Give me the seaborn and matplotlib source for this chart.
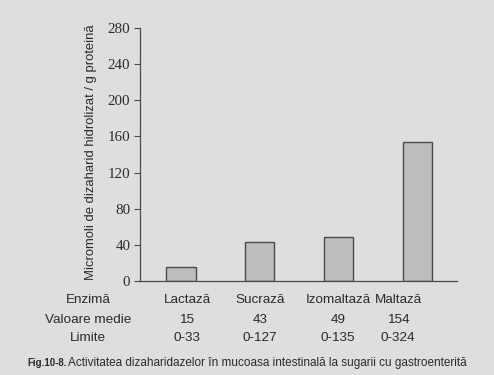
import matplotlib
matplotlib.use("Agg")
import matplotlib.pyplot as plt
import seaborn as sns
import pandas as pd

# ── Data ──────────────────────────────────────────────────────────────────────
ENZIME   = ["Lactază", "Sucrază", "Izomaltază", "Maltază"]
MEDII    = [15, 43, 49, 154]
LIMITE   = ["0-33", "0-127", "0-135", "0-324"]
Y_TICKS  = [0, 40, 80, 120, 160, 200, 240, 280]

BG    = "#dedede"
BAR   = "#bdbdbd"
EDGE  = "#4a4a4a"
TEXT  = "#2a2a2a"

sns.set_style("ticks")
plt.rcParams["font.family"] = ["Liberation Sans", "DejaVu Sans"]

df = pd.DataFrame({"enzima": ENZIME, "medie": MEDII})

W, H = 494, 375
fig = plt.figure(figsize=(W / 100, H / 100), dpi=100, facecolor=BG)
# axa: x 140..457 px, y 28..281 px
ax = fig.add_axes([140 / W, 1 - 281 / H, 317 / W, 253 / H], facecolor=BG)

sns.barplot(data=df, x="enzima", y="medie", ax=ax, width=0.37,
            color=BAR, edgecolor=EDGE, linewidth=1.0, saturation=1)

ax.set_xlim(-0.52, 3.5)
ax.set_ylim(0, 280)
ax.set_yticks(Y_TICKS)
ax.set_yticklabels([str(t) for t in Y_TICKS], family="Liberation Serif",
                   fontsize=10.8, color=TEXT)
ax.tick_params(axis="y", length=4, width=0.8, color=EDGE, pad=3)
ax.tick_params(axis="x", length=0, labelbottom=False)
ax.set_xlabel("")
ax.set_ylabel("")
for s in ["top", "right"]:
    ax.spines[s].set_visible(False)
for s in ["left", "bottom"]:
    ax.spines[s].set_color(EDGE)
    ax.spines[s].set_linewidth(0.9)

fig.text(91 / W, 1 - 152 / H, "Micromoli de dizaharid hidrolizat / g proteină",
         rotation=90, ha="center", va="center", fontsize=9.4, color=TEXT)

# ── Tabel sub grafic ─────────────────────────────────────────────────────────
rows_y = [300, 320, 338]
labels = ["Enzimă", "Valoare medie", "Limite"]
col_x  = [187, 260, 338, 398]
FS = 9.7
for y, lab in zip(rows_y, labels):
    fig.text(88 / W, 1 - y / H, lab, ha="center", va="center",
             fontsize=FS, color=TEXT)
for x, enz, med, lim in zip(col_x, ENZIME, MEDII, LIMITE):
    fig.text(x / W, 1 - rows_y[0] / H, enz, ha="center", va="center",
             fontsize=FS, color=TEXT)
    fig.text(x / W, 1 - rows_y[1] / H, str(med), ha="center", va="center",
             fontsize=FS, color=TEXT)
    fig.text(x / W, 1 - rows_y[2] / H, lim, ha="center", va="center",
             fontsize=FS, color=TEXT)

fig.text(27 / W, 1 - 363 / H, "Fig.10-8.", ha="left", va="center",
         fontsize=7.0, fontweight="bold", color=TEXT)
fig.text(68 / W, 1 - 363 / H,
         "Activitatea dizaharidazelor în mucoasa intestinală la sugarii cu gastroenterită",
         ha="left", va="center", fontsize=8.5, color=TEXT)

fig.savefig("out.png", dpi=100, facecolor=BG)
